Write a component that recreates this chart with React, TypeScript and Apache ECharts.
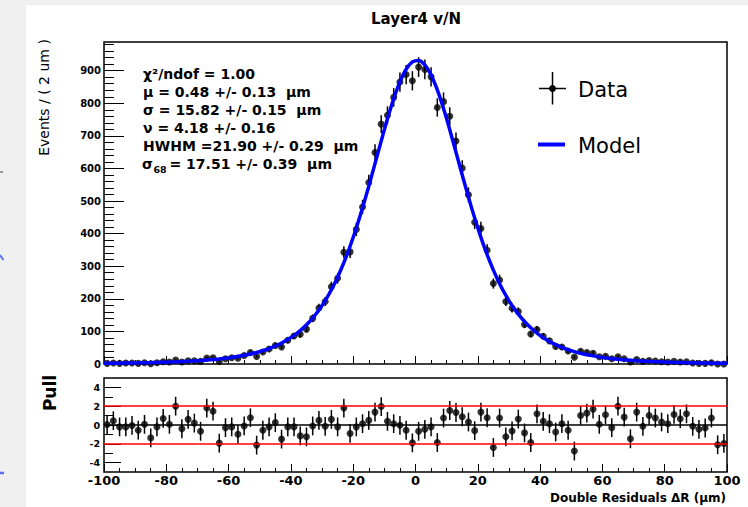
import React, { useEffect, useRef } from "react";
import * as echarts from "echarts";

// ---- data ----
const binCenters = Array.from({ length: 100 }, (_, i) => -99 + 2 * i); // 2 um bins
const counts = [
  2, 3, 2, 3, 3, 2, 4, 1, 4, 7,
  6, 12, 6, 10, 10, 8, 18, 19, 8, 16,
  19, 18, 26, 35, 23, 37, 46, 57, 52, 73,
  86, 91, 107, 140, 172, 192, 237, 263, 343, 344,
  413, 482, 557, 649, 736, 763, 818, 865, 888, 869,
  911, 904, 881, 787, 805, 760, 684, 601, 519, 435,
  416, 349, 247, 258, 192, 171, 161, 121, 92, 106,
  85, 71, 54, 52, 40, 21, 39, 35, 33, 22,
  24, 16, 22, 16, 6, 14, 8, 11, 9, 7,
  6, 8, 6, 7, 3, 2, 2, 4, 0, 0,
];
const pulls = [
  0.05, 0.46, -0.2, -0.2, -0.05, -0.55, 0.07, -1.37, -0.2, 0.7,
  0.07, 2.0, -0.4, 0.6, 0.2, -0.67, 1.8, 1.47, -1.93, -0.28,
  -0.2, -0.98, -0.1, 0.77, -2.14, -0.56, -0.2, 0.25, -1.5, -0.2,
  -0.2, -1.16, -1.26, -0.1, 0.49, -0.14, 0.6, -0.2, 1.8, -0.9,
  -0.2, 0.14, 0.49, 1.37, 1.96, 0.39, 0.14, -0.03, -0.56, -1.9,
  -0.67, -0.46, -0.2, -1.86, 0.74, 1.54, 1.33, 0.88, 0.32, -0.6,
  1.37, 0.77, -2.39, 0.74, -1.26, -0.63, 0.63, -0.84, -1.86, 1.19,
  0.39, 0.14, -0.74, 0.14, -0.56, -2.77, 1.02, 1.26, 1.68, 0.07,
  1.09, -0.28, 2.0, 0.84, -1.47, 1.37, -0.14, 1.02, 0.74, 0.32,
  0.14, 1.12, 0.67, 1.19, -0.14, -0.46, -0.32, 0.74, -2.1, -1.96,
];
const modelX = [-100, ...binCenters, 100];
const modelValues = [
  2.0,
  2.2, 2.4, 2.6, 2.8, 3.2, 3.5, 3.9, 4.3, 4.8, 5.4,
  6.0, 6.7, 7.5, 8.3, 9.4, 10.6, 12.0, 13.6, 15.4, 17.6,
  20.3, 23.2, 26.7, 30.7, 35.4, 40.9, 47.5, 55.2, 64.2, 75.0,
  87.6, 102.6, 120.3, 141.1, 165.6, 194.3, 227.8, 266.5, 310.9, 361.2,
  417.5, 479.3, 545.6, 614.9, 684.7, 752.2, 813.8, 865.7, 904.3, 926.8,
  931.4, 917.7, 886.9, 841.2, 784.0, 719.0, 649.9, 580.0, 512.0, 447.7,
  388.7, 335.3, 288.0, 246.5, 210.4, 179.4, 152.9, 130.3, 111.1, 94.8,
  81.0, 69.4, 59.5, 51.2, 44.1, 38.1, 32.9, 28.6, 24.9, 21.7,
  19.0, 16.7, 14.6, 12.8, 11.2, 9.9, 8.8, 7.9, 7.0, 6.2,
  5.6, 5.0, 4.5, 4.1, 3.7, 3.3, 3.0, 2.7, 2.5, 2.2,
  2.1,
];
const yTicks = [0, 100, 200, 300, 400, 500, 600, 700, 800, 900];
const yMinorTicks: number[] = [];
for (let v = 20; v < 988; v += 20) if (v % 100 !== 0) yMinorTicks.push(v);
const pullTicks = [-4, -2, 0, 2, 4];
const pullMinorTicks = [-3, -1, 1, 3];
const pullBands = [2, -2];

const titleText = "Layer4 v/N";
const yTitle = "Events / ( 2 um )";
const xTitle = "Double Residuals ΔR (μm)";
const pullTitle = "Pull";
const statsLines = [
  "χ²/ndof = 1.00",
  "μ = 0.48 +/- 0.13  μm",
  "σ = 15.82 +/- 0.15  μm",
  "ν = 4.18 +/- 0.16",
  "HWHM =21.90 +/- 0.29  μm",
];
const sigma68 = { sym: "σ", sub: "68", rest: "= 17.51 +/- 0.39  μm" };

const FONT = '"DejaVu Sans", sans-serif';

function errorBars(xAxisIndex: number, yAxisIndex: number, data: number[][]) {
  return {
    type: "custom",
    xAxisIndex,
    yAxisIndex,
    z: 2,
    data,
    encode: { x: 0, y: 1 },
    renderItem: (params: any, api: any) => {
      const x = api.value(0);
      const p1 = api.coord([x, api.value(2)]);
      const p2 = api.coord([x, api.value(3)]);
      return {
        type: "line",
        shape: { x1: p1[0], y1: p1[1], x2: p2[0], y2: p2[1] },
        style: { stroke: "#000", lineWidth: 1.5 },
      };
    },
  };
}

export default function App() {
  const ref = useRef<HTMLDivElement>(null);
  useEffect(() => {
    if (!ref.current) return;
    const chart = echarts.init(ref.current, undefined, { renderer: "svg" });
    const dataPts = binCenters.map((x, i) => [x, counts[i]]);
    const dataErr = binCenters.map((x, i) => {
      const n = counts[i];
      const e = Math.sqrt(n);
      return [x, n, n - e, n === 0 ? 1.15 : n + e];
    });
    const pullPts = binCenters.map((x, i) => [x, pulls[i]]);
    const pullErr = binCenters.map((x, i) => [x, pulls[i], pulls[i] - 1, pulls[i] + 1]);
    const modelPts = modelX.map((x, i) => [x, modelValues[i]]);

    const tickStyle = { color: "#000", width: 1 };
    const xAxisBase = {
      type: "value",
      min: -100,
      max: 100,
      interval: 20,
      position: "bottom",
      axisLine: { show: false, onZero: false },
      splitLine: { show: false },
      axisTick: { show: true, inside: true, length: 8, lineStyle: tickStyle },
      minorTick: { show: true, splitNumber: 4, length: 4, lineStyle: tickStyle },
      minorSplitLine: { show: false },
    };
    const yAxisBase = {
      type: "value",
      position: "left",
      offset: 0,
      axisLine: { show: false, onZero: false },
      splitLine: { show: false },
    };
    const txt = (
      x: number,
      y: number,
      text: string,
      size: number,
      weight: string,
      align = "left",
      extra: any = {}
    ) => ({
      type: "text",
      x,
      y,
      ...extra,
      style: {
        text,
        fontSize: size,
        fontWeight: weight,
        fontFamily: FONT,
        fill: "#000",
        align,
        verticalAlign: "middle",
        textAlign: align,
        textVerticalAlign: "middle",
      },
    });

    const graphics: any[] = [
      txt(416, 19, titleText, 15, "bold", "center"),
      txt(43.5, 97.5, yTitle, 14, "normal", "center", { rotation: Math.PI / 2 }),
      txt(49.5, 393, pullTitle, 17, "bold", "center", { rotation: Math.PI / 2 }),
      txt(726, 498, xTitle, 12, "bold", "right"),
      ...statsLines.map((s, i) => txt(143, 73.8 + 18 * i, s, 14, "bold")),
      txt(142, 163.8, sigma68.sym, 14, "bold"),
      txt(153.5, 169, sigma68.sub, 9.5, "bold"),
      txt(169.5, 163.8, sigma68.rest, 14, "bold"),
      // legend
      { type: "line", shape: { x1: 552.5, y1: 72, x2: 552.5, y2: 104.5 }, style: { stroke: "#000", lineWidth: 1.5 } },
      { type: "line", shape: { x1: 539, y1: 88.5, x2: 566, y2: 88.5 }, style: { stroke: "#000", lineWidth: 1.5 } },
      { type: "circle", shape: { cx: 552.5, cy: 88.5, r: 3.5 }, style: { fill: "#000" } },
      txt(578, 89.5, "Data", 21, "normal"),
      { type: "line", shape: { x1: 538, y1: 144.5, x2: 565, y2: 144.5 }, style: { stroke: "#0000ff", lineWidth: 4 } },
      txt(578, 145.5, "Model", 21, "normal"),
      // edge artefacts of the screenshot
      { type: "line", shape: { x1: 0, y1: 172, x2: 3, y2: 172 }, style: { stroke: "#444", lineWidth: 1 } },
      { type: "line", shape: { x1: 0, y1: 255, x2: 3.5, y2: 260 }, style: { stroke: "#5b6ef5", lineWidth: 2 } },
      { type: "line", shape: { x1: 0, y1: 473, x2: 4, y2: 473 }, style: { stroke: "#5b6ef5", lineWidth: 2.5 } },
    ];

    const option: any = {
      animation: false,
      backgroundColor: "transparent",
      grid: [
        { left: 104, top: 42, width: 623, height: 322, show: true, borderColor: "#000", borderWidth: 1.5, backgroundColor: "transparent" },
        { left: 104, top: 378, width: 623, height: 94, show: true, borderColor: "#000", borderWidth: 1.5, backgroundColor: "transparent" },
      ],
      xAxis: [
        { ...xAxisBase, gridIndex: 0, axisLabel: { show: false } },
        {
          ...xAxisBase,
          gridIndex: 1,
          axisLabel: { show: true, fontSize: 13, fontWeight: "bold", fontFamily: FONT, color: "#000", margin: 2 },
        },
      ],
      yAxis: [
        {
          ...yAxisBase,
          gridIndex: 0,
          min: 0,
          max: 988,
          axisTick: { show: true, inside: true, length: 20, lineStyle: tickStyle, customValues: yTicks },
          axisLabel: { show: true, customValues: yTicks, fontSize: 10, fontWeight: "bold", fontFamily: FONT, color: "#000", margin: 3 },
        },
        {
          ...yAxisBase,
          gridIndex: 0,
          min: 0,
          max: 988,
          axisTick: { show: true, inside: true, length: 10, lineStyle: tickStyle, customValues: yMinorTicks },
          axisLabel: { show: false },
        },
        {
          ...yAxisBase,
          gridIndex: 1,
          min: -5,
          max: 5,
          axisTick: { show: true, inside: true, length: 17, lineStyle: tickStyle, customValues: pullTicks },
          axisLabel: { show: true, customValues: pullTicks, fontSize: 9.5, fontWeight: "bold", fontFamily: FONT, color: "#000", margin: 4 },
        },
        {
          ...yAxisBase,
          gridIndex: 1,
          min: -5,
          max: 5,
          axisTick: { show: true, inside: true, length: 9, lineStyle: tickStyle, customValues: pullMinorTicks },
          axisLabel: { show: false },
        },
      ],
      series: [
        {
          type: "line",
          xAxisIndex: 1,
          yAxisIndex: 2,
          z: 1,
          data: [[-100, 0], [100, 0]],
          showSymbol: false,
          symbol: "none",
          lineStyle: { color: "#000", width: 1.5 },
          markLine: {
            silent: true,
            symbol: "none",
            label: { show: false },
            lineStyle: { color: "#ff0000", width: 1.5, type: "solid" },
            data: pullBands.map((v) => ({ yAxis: v })),
          },
        },
        errorBars(0, 0, dataErr),
        {
          type: "scatter",
          xAxisIndex: 0,
          yAxisIndex: 0,
          z: 3,
          symbol: "circle",
          symbolSize: 7,
          itemStyle: { color: "#000" },
          data: dataPts,
        },
        {
          type: "line",
          xAxisIndex: 0,
          yAxisIndex: 0,
          z: 4,
          smooth: 0.3,
          showSymbol: false,
          symbol: "none",
          lineStyle: { color: "#0000ff", width: 3.5 },
          data: modelPts,
        },
        errorBars(1, 2, pullErr),
        {
          type: "scatter",
          xAxisIndex: 1,
          yAxisIndex: 2,
          z: 3,
          symbol: "circle",
          symbolSize: 7,
          itemStyle: { color: "#000" },
          data: pullPts,
        },
      ],
      graphic: graphics,
    };
    chart.setOption(option);
    return () => chart.dispose();
  }, []);

  return (
    <div style={{ position: "fixed", left: 0, top: 0, width: 748, height: 507, background: "#f0f0f0" }}>
      <div style={{ position: "absolute", left: 26, top: 5, right: 0, bottom: 0, background: "#ffffff" }} />
      <div ref={ref} style={{ position: "absolute", left: 0, top: 0, width: 748, height: 507 }} />
    </div>
  );
}
